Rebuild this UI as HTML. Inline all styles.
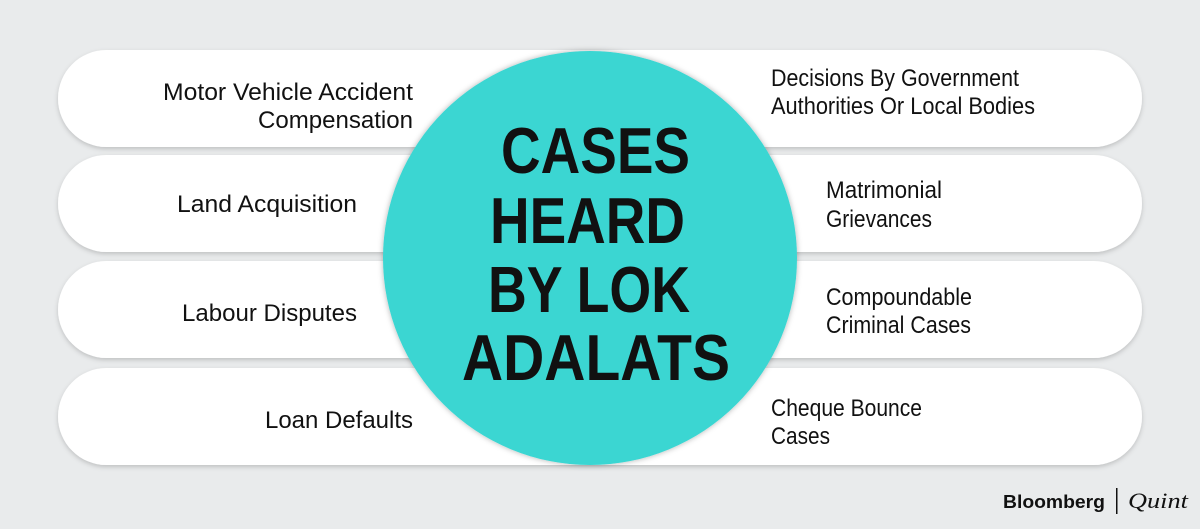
<!DOCTYPE html>
<html><head><meta charset="utf-8"><style>
html,body{margin:0;padding:0;background:#e9ebec;}
svg{display:block}
text{font-family:"Liberation Sans",sans-serif;fill:#111;}
</style></head><body>
<svg width="1200" height="529" viewBox="0 0 1200 529" xmlns="http://www.w3.org/2000/svg">
<defs>
<filter id="sh" x="-5%" y="-20%" width="110%" height="150%"><feDropShadow dx="0" dy="2" stdDeviation="2.5" flood-color="#000" flood-opacity="0.18"/></filter>
<filter id="sh2" x="-10%" y="-10%" width="120%" height="120%"><feDropShadow dx="0" dy="0" stdDeviation="3" flood-color="#000" flood-opacity="0.3"/></filter>
</defs>
<rect width="1200" height="529" fill="#e9ebec"/>
<g fill="#fff" filter="url(#sh)">
<rect x="58" y="50" width="1084" height="97" rx="48.5"/>
<rect x="58" y="155" width="1084" height="97" rx="48.5"/>
<rect x="58" y="261" width="1084" height="97" rx="48.5"/>
<rect x="58" y="368" width="1084" height="97" rx="48.5"/>
</g>
<circle cx="590" cy="258" r="207" fill="#3ad6d2" filter="url(#sh2)"/>
<g font-size="24">
<text x="163" y="100" textLength="250" lengthAdjust="spacingAndGlyphs">Motor Vehicle Accident</text>
<text x="258" y="128" textLength="155" lengthAdjust="spacingAndGlyphs">Compensation</text>
<text x="177" y="212" textLength="180" lengthAdjust="spacingAndGlyphs">Land Acquisition</text>
<text x="182" y="321" textLength="175" lengthAdjust="spacingAndGlyphs">Labour Disputes</text>
<text x="265" y="428" textLength="148" lengthAdjust="spacingAndGlyphs">Loan Defaults</text>
<text x="771" y="86" textLength="248" lengthAdjust="spacingAndGlyphs">Decisions By Government</text>
<text x="771" y="114" textLength="264" lengthAdjust="spacingAndGlyphs">Authorities Or Local Bodies</text>
<text x="826" y="198" textLength="116" lengthAdjust="spacingAndGlyphs">Matrimonial</text>
<text x="826" y="227" textLength="106" lengthAdjust="spacingAndGlyphs">Grievances</text>
<text x="826" y="305" textLength="146" lengthAdjust="spacingAndGlyphs">Compoundable</text>
<text x="826" y="333" textLength="145" lengthAdjust="spacingAndGlyphs">Criminal Cases</text>
<text x="771" y="416" textLength="151" lengthAdjust="spacingAndGlyphs">Cheque Bounce</text>
<text x="771" y="444" textLength="59" lengthAdjust="spacingAndGlyphs">Cases</text>
</g>
<g font-size="65" font-weight="bold">
<text x="501" y="173" textLength="189" lengthAdjust="spacingAndGlyphs">CASES</text>
<text x="490" y="243" textLength="195" lengthAdjust="spacingAndGlyphs">HEARD</text>
<text x="488" y="312" textLength="202" lengthAdjust="spacingAndGlyphs">BY LOK</text>
<text x="462" y="380" textLength="268" lengthAdjust="spacingAndGlyphs">ADALATS</text>
</g>
<text x="1003" y="508" font-size="18" font-weight="bold" textLength="102" lengthAdjust="spacingAndGlyphs">Bloomberg</text>
<rect x="1116" y="488" width="1.5" height="26" fill="#111"/>
<text x="1128" y="508" font-size="22" font-style="italic" style="font-family:'Liberation Serif',serif" textLength="60" lengthAdjust="spacingAndGlyphs">Quint</text>
</svg>
</body></html>
